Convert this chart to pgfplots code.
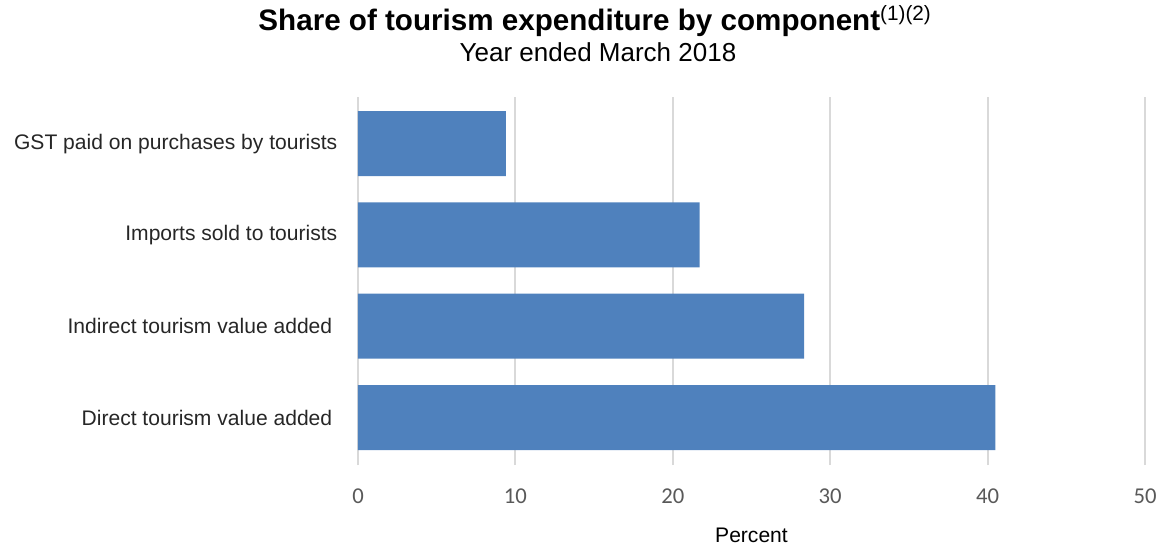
\documentclass[border=0pt]{standalone}
\usepackage{fontspec}
\setmainfont{Liberation Sans}
\newfontfamily\tickfont{Carlito}
\usepackage{pgfplots}
\pgfplotsset{compat=1.18}
\definecolor{barblue}{HTML}{4F81BD}
\definecolor{gridgray}{HTML}{D9D9D9}
\definecolor{tickgray}{HTML}{595959}
\begin{document}
\begin{tikzpicture}[x=0.75pt,y=0.75pt]
\path[use as bounding box] (-358,-81) rectangle (808,465);
\begin{axis}[
  at={(0,0)}, anchor=south west,
  scale only axis,
  width=590.25pt, height=276pt,
  xbar, bar width=48.75pt,
  xmin=0, xmax=50,
  ymin=-0.52, ymax=3.51,
  xtick={0,10,20,30,40,50},
  ytick={0,1,2,3},
  yticklabels={Direct tourism value added\hspace{3.8pt}\mbox{},Indirect tourism value added\hspace{3.8pt}\mbox{},Imports sold to tourists,GST paid on purchases by tourists},
  yticklabel style={font=\fontsize{15.8}{18}\selectfont, text=black!85, xshift=-12pt},
  xticklabel style={font=\tickfont\fontsize{17}{20}\selectfont, text=tickgray, yshift=-14pt},
  /pgf/number format/assume math mode=true,
  xmajorgrids, major grid style={gridgray, line width=1.5pt},
  major tick length=0pt,
  axis line style={draw=none},
  xlabel={Percent},
  xlabel style={font=\fontsize{15.8}{18}\selectfont, yshift=-12pt},
]
\addplot[fill=barblue, draw=none] coordinates {(40.5,0) (28.35,1) (21.7,2) (9.4,3)};
\end{axis}
\node[font=\bfseries\fontsize{22.2}{26}\selectfont, anchor=base] at (237,434) {Share of tourism expenditure by component\textsuperscript{\normalfont(1)(2)}};
\node[font=\fontsize{19.5}{22}\selectfont, anchor=base] at (240,403) {Year ended March 2018};
\end{tikzpicture}
\end{document}
